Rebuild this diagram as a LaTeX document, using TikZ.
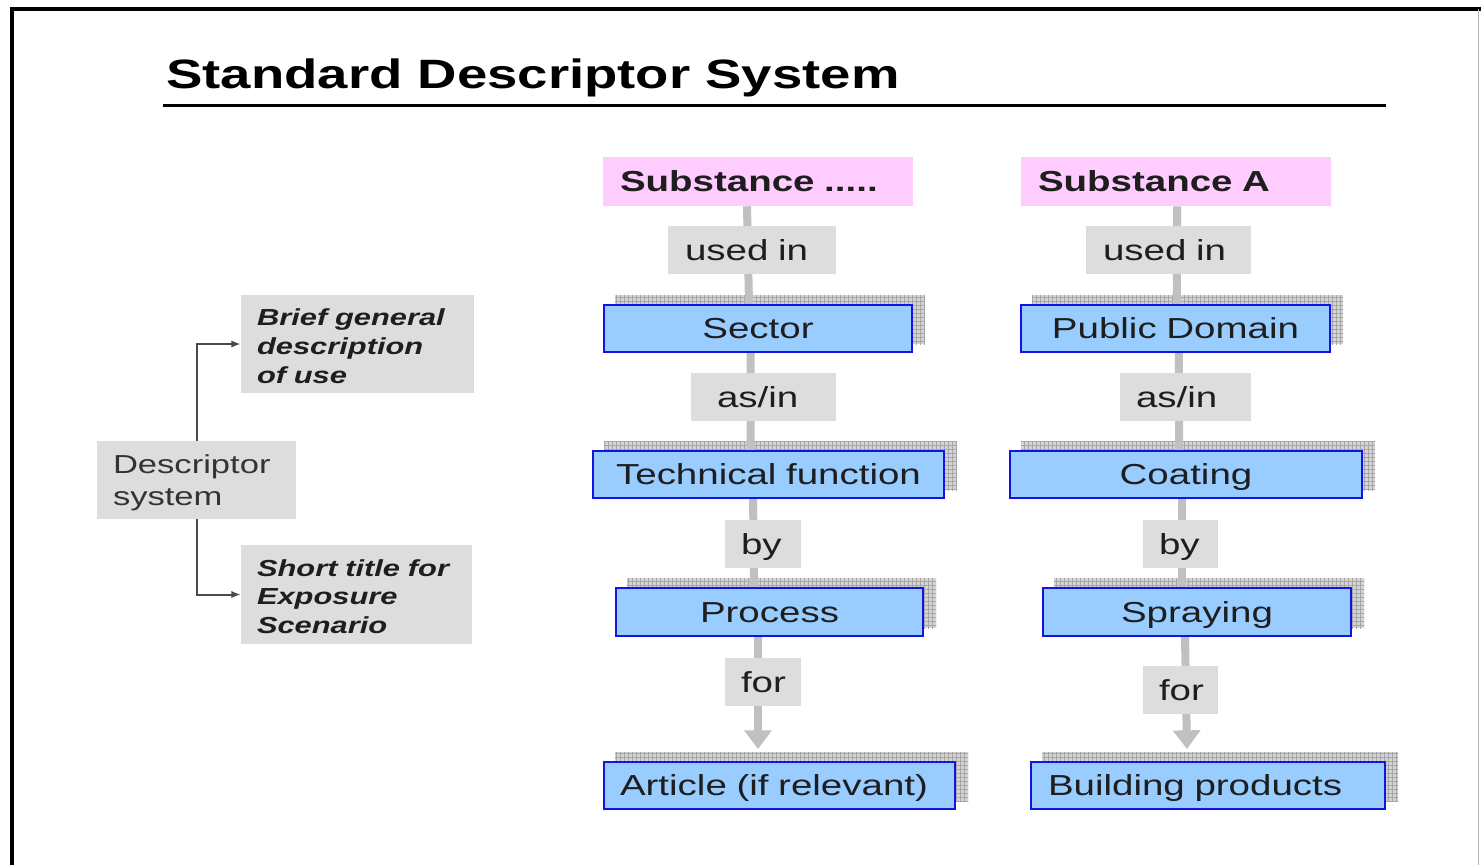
\documentclass[tikz,border=0pt]{standalone}
\usepackage{fontspec}
\setmainfont{Liberation Sans}[FakeStretch=1.33]
\usetikzlibrary{arrows.meta,patterns}
\definecolor{pinkf}{HTML}{FFCCFF}
\definecolor{bluef}{HTML}{99CCFF}
\definecolor{blued}{HTML}{1414E0}
\definecolor{labf}{HTML}{DDDDDD}
\definecolor{connc}{HTML}{C0C0C0}
\definecolor{txt}{HTML}{1E1E1E}
\definecolor{txtg}{HTML}{333333}
\definecolor{linec}{HTML}{4A4A4A}
\definecolor{shadf}{HTML}{D4D4D4}
\pgfdeclarelayer{shadowl}
\pgfdeclarelayer{connl}
\pgfsetlayers{shadowl,connl,main}
\tikzset{
  basebox/.style={rectangle, inner ysep=0pt, text=txt},
  pinkbox/.style={basebox, fill=pinkf, align=left, font=\fontsize{21.7}{26}\selectfont\bfseries},
  bluebox/.style={basebox, fill=bluef, draw=blued, line width=1.5pt, align=center, font=\fontsize{21.7}{26}\selectfont},
  blueleft/.style={bluebox, align=left},
  labbox/.style={basebox, fill=labf, align=left, font=\fontsize{21.7}{26}\selectfont},
  descbox/.style={basebox, fill=labf, align=left, text=txtg, font=\fontsize{19.5}{24}\selectfont},
  italbox/.style={basebox, fill=labf, align=left, font=\fontsize{17.4}{21.6}\selectfont\bfseries\itshape},
  conn/.style={draw=connc, line width=6pt},
  lconn/.style={draw=linec, line width=1.5pt},
}
\newcommand\bx[8]{% name, style, x1, y1, x2, y2, inset, text
  \pgfmathsetmacro\bxw{(#5-#3)*0.75}%
  \pgfmathsetmacro\bxh{(#6-#4)*0.75}%
  \pgfmathsetmacro\bxt{(#5-#3-2*#7)*0.75}%
  \pgfmathsetmacro\bxi{#7*0.75}%
  \node[#2, minimum width=\bxw pt, minimum height=\bxh pt, text width=\bxt pt, inner xsep=\bxi pt] (#1) at ({(#3+#5)/2},{(#4+#6)/2}) {\vphantom{Ajy}\rule{0pt}{0.9em}#8};}
\newcommand\shd[1]{%
  \begin{pgfonlayer}{shadowl}
    \fill[shadf] ([xshift=9pt,yshift=6.5pt]#1.south west) rectangle ([xshift=9pt,yshift=6.5pt]#1.north east);
    \fill[pattern=grid, pattern color=gray!70] ([xshift=9pt,yshift=6.5pt]#1.south west) rectangle ([xshift=9pt,yshift=6.5pt]#1.north east);
  \end{pgfonlayer}}
\begin{document}
\begin{tikzpicture}[x=0.75pt,y=-0.75pt]
\useasboundingbox (0,0) rectangle (1481,865);
% frame
\draw[line width=3pt] (12,865) -- (12,8.5) -- (1481,8.5);
\draw[gray!60, line width=0.75pt] (1478,8.5) -- (1478,865);
% title
\node[anchor=base west, inner sep=0pt, font=\fontsize{30.75}{36}\selectfont\bfseries, text=black] (title) at (166,88) {Standard Descriptor System};
\draw[line width=2.25pt] (163,105) -- (1386,105);

% left column
\bx{s1}{pinkbox}{603}{157}{913}{206}{17}{Substance .....}
\bx{u1}{labbox}{668}{226}{836}{274}{17}{used in}
\bx{sec}{bluebox}{604}{305}{912}{352}{0}{Sector}
\bx{a1}{labbox}{691}{373}{836}{421}{26}{as/in}
\bx{tech}{bluebox}{593}{451}{944}{498}{0}{Technical function}
\bx{b1}{labbox}{725}{520}{801}{568}{16}{by}
\bx{proc}{bluebox}{616}{588}{923}{636}{0}{Process}
\bx{f1}{labbox}{725}{658}{801}{706}{16}{for}
\bx{art}{blueleft}{604}{762}{955}{809}{16}{Article (if relevant)}

% right column
\bx{s2}{pinkbox}{1021}{157}{1331}{206}{17}{Substance A}
\bx{u2}{labbox}{1086}{226}{1251}{274}{17}{used in}
\bx{pd}{bluebox}{1021}{305}{1330}{352}{0}{Public Domain}
\bx{a2}{labbox}{1120}{373}{1251}{421}{16}{as/in}
\bx{coat}{bluebox}{1010}{451}{1362}{498}{0}{Coating}
\bx{b2}{labbox}{1143}{520}{1218}{568}{16}{by}
\bx{spr}{bluebox}{1043}{588}{1351}{636}{0}{Spraying}
\bx{f2}{labbox}{1143}{666}{1218}{714}{16}{for}
\bx{bld}{blueleft}{1031}{762}{1385}{809}{17}{Building products}

% left side descriptor
\bx{desc}{descbox}{97}{441}{296}{519}{16}{Descriptor\\system}
\bx{brief}{italbox}{241}{295}{474}{393}{16}{Brief general\\description\\of use}
\bx{short}{italbox}{241}{545}{472}{644}{16}{Short title for\\Exposure\\Scenario}

% shadows
\shd{sec}\shd{tech}\shd{proc}\shd{art}
\shd{pd}\shd{coat}\shd{spr}\shd{bld}

% connectors
\begin{pgfonlayer}{connl}
\draw[conn] ([xshift=-8.25pt]s1.south) -- ([xshift=-6.75pt]sec.north);
\draw[conn] ([xshift=-5.6pt]sec.south) -- ([xshift=-13.5pt]tech.north);
\draw[conn] ([xshift=-11.6pt]tech.south) -- ([xshift=-11.6pt]proc.north);
\draw[conn, -{Triangle[width=20pt,length=14pt]}] ([xshift=-8.6pt]proc.south) -- ([xshift=-16.1pt,yshift=9pt]art.north);
\draw[conn] ([xshift=0.75pt]s2.south) -- ([xshift=1.1pt]pd.north);
\draw[conn] ([xshift=2.6pt]pd.south) -- ([xshift=-5.25pt]coat.north);
\draw[conn] ([xshift=-3pt]coat.south) -- ([xshift=-11.25pt]spr.north);
\draw[conn, -{Triangle[width=20pt,length=14pt]}] ([xshift=-9pt]spr.south) -- ([xshift=-15.75pt,yshift=9pt]bld.north);
\end{pgfonlayer}

\draw[lconn, -{Latex[length=7pt,width=5.5pt]}] (desc.north) |- (brief.west);
\draw[lconn, -{Latex[length=7pt,width=5.5pt]}] (desc.south) |- (short.west);
\end{tikzpicture}
\end{document}
